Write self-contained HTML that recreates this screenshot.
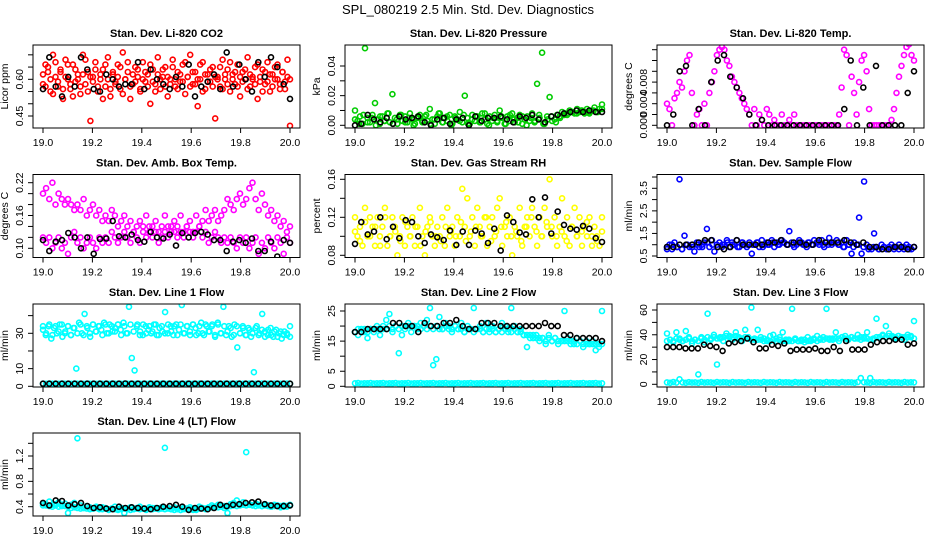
<!DOCTYPE html>
<html><head><meta charset="utf-8">
<style>
html,body{margin:0;padding:0;background:#fff;}
svg{display:block;font-family:"Liberation Sans",Arial,sans-serif;}
</style></head>
<body>
<svg id="chart" width="936" height="540" viewBox="0 0 936 540">
<rect width="936" height="540" fill="#fff"/>
<text x="468" y="14" text-anchor="middle" font-size="13">SPL_080219  2.5 Min. Std. Dev. Diagnostics</text>
</svg>
<script>
const xTicks=[19.0,19.2,19.4,19.6,19.8,20.0];
const xTickLabels=["19.0","19.2","19.4","19.6","19.8","20.0"];

const co2Red=[0.58,0.66,0.63,0.55,0.70,0.61,0.57,0.64,0.52,0.68,0.60,0.56,0.66,0.59,0.62,0.54,0.70,0.58,0.63,0.43,0.61,0.67,0.55,0.60,0.64,0.57,0.69,0.53,0.62,0.59,0.66,0.56,0.71,0.60,0.63,0.52,0.58,0.65,0.61,0.55,0.67,0.59,0.62,0.50,0.64,0.58,0.69,0.56,0.61,0.65,0.53,0.60,0.68,0.57,0.63,0.59,0.66,0.54,0.61,0.70,0.58,0.63,0.49,0.60,0.67,0.56,0.62,0.59,0.65,0.44,0.61,0.57,0.68,0.60,0.64,0.55,0.62,0.58,0.66,0.53,0.63,0.60,0.69,0.57,0.61,0.65,0.52,0.59,0.64,0.58,0.67,0.55,0.62,0.60,0.66,0.56,0.63,0.59,0.68,0.41];
const co2Red2=[0.62,0.57,0.65,0.60,0.54,0.67,0.59,0.63,0.56,0.61,0.66,0.58,0.53,0.64,0.60,0.57,0.62,0.68,0.55,0.61,0.59,0.64,0.57,0.62,0.52,0.66,0.60,0.56,0.63,0.58,0.61,0.65,0.54,0.60,0.67,0.57,0.62,0.59,0.64,0.56,0.60,0.63,0.57,0.66,0.59,0.55,0.62,0.60,0.64,0.57,0.61,0.58,0.65,0.60,0.56,0.62,0.59,0.67,0.61,0.57,0.63,0.58,0.60,0.66,0.55,0.62,0.59,0.64,0.57,0.61,0.60,0.65,0.56,0.62,0.58,0.67,0.60,0.63,0.57,0.61,0.59,0.64,0.56,0.62,0.60,0.58,0.66,0.61,0.55,0.63,0.59,0.62,0.57,0.65,0.60,0.58,0.63,0.56,0.61,0.60];
const co2Black=[0.56,0.69,0.57,0.53,0.61,0.57,0.69,0.64,0.56,0.55,0.62,0.60,0.57,0.58,0.58,0.67,0.56,0.64,0.60,0.58,0.56,0.61,0.57,0.66,0.53,0.57,0.59,0.62,0.56,0.71,0.57,0.66,0.60,0.55,0.67,0.61,0.69,0.65,0.58,0.52];

const presGreen=[0.010,0.003,0.006,0.001,0.052,0.005,0.002,0.007,0.015,0.004,0.001,0.006,0.003,0.008,0.002,0.021,0.005,0.001,0.007,0.003,0.006,0.002,0.008,0.004,0.001,0.005,0.007,0.002,0.006,0.003,0.011,0.004,0.001,0.006,0.008,0.002,0.005,0.003,0.007,0.001,0.006,0.004,0.009,0.002,0.020,0.005,0.001,0.007,0.003,0.006,0.002,0.008,0.004,0.001,0.006,0.003,0.007,0.002,0.010,0.005,0.001,0.006,0.003,0.008,0.002,0.005,0.007,0.001,0.004,0.006,0.003,0.008,0.002,0.028,0.005,0.049,0.001,0.006,0.019,0.003,0.004,0.007,0.006,0.009,0.008,0.007,0.010,0.009,0.008,0.011,0.009,0.010,0.008,0.011,0.009,0.010,0.012,0.009,0.011,0.014];
const presGreen2=[0.004,0.001,0.007,0.002,0.005,0.000,0.006,0.003,0.008,0.001,0.004,0.007,0.002,0.005,0.000,0.006,0.003,0.007,0.001,0.004,0.008,0.002,0.006,0.000,0.005,0.003,0.007,0.001,0.004,0.006,0.002,0.008,0.000,0.005,0.003,0.006,0.001,0.007,0.004,0.002,0.006,0.000,0.005,0.003,0.007,0.001,0.004,0.006,0.002,0.005,0.007,0.008,0.009,0.008,0.010,0.009,0.008,0.010,0.009,0.011];
const presBlack=[0.000,0.001,0.007,0.004,0.002,0.005,0.001,0.006,0.004,0.005,0.006,0.002,0.000,0.004,0.005,0.001,0.004,0.005,0.000,0.006,0.003,0.005,0.005,0.006,0.004,0.002,0.006,0.005,0.007,0.004,0.002,0.006,0.007,0.008,0.009,0.010,0.009,0.010,0.009,0.009];

const tempMag=[0.004,0.003,0.000,0.005,0.006,0.008,0.007,0.010,0.012,0.013,0.006,0.000,0.002,0.003,0.000,0.004,0.000,0.006,0.008,0.010,0.013,0.014,0.0145,0.014,0.012,0.011,0.009,0.008,0.007,0.006,0.005,0.004,0.003,0.002,0.000,0.003,0.000,0.002,0.001,0.000,0.003,0.002,0.000,0.001,0.000,0.000,0.002,0.000,0.000,0.001,0.000,0.002,0.000,0.000,0.000,0.000,0.000,0.000,0.000,0.000,0.000,0.000,0.000,0.000,0.000,0.000,0.000,0.000,0.000,0.002,0.007,0.014,0.013,0.000,0.009,0.006,0.002,0.008,0.012,0.013,0.010,0.003,0.000,0.000,0.000,0.000,0.000,0.000,0.000,0.000,0.001,0.003,0.006,0.009,0.011,0.013,0.0145,0.015,0.013,0.012];
const tempBlack=[0.000,0.002,0.010,0.011,0.000,0.003,0.000,0.008,0.012,0.013,0.009,0.007,0.005,0.002,0.000,0.001,0.000,0.000,0.000,0.000,0.000,0.000,0.000,0.000,0.000,0.000,0.000,0.000,0.003,0.012,0.000,0.007,0.000,0.011,0.000,0.000,0.000,0.000,0.006,0.010];

const boxUpper=[0.20,0.21,0.19,0.22,0.18,0.20,0.19,0.18,0.19,0.18,0.17,0.18,0.17,0.19,0.16,0.17,0.18,0.16,0.17,0.15,0.16,0.15,0.17,0.16,0.14,0.15,0.16,0.14,0.15,0.13,0.14,0.15,0.14,0.16,0.13,0.14,0.15,0.13,0.14,0.16,0.14,0.13,0.15,0.14,0.16,0.13,0.14,0.15,0.13,0.16,0.14,0.15,0.17,0.15,0.16,0.17,0.15,0.16,0.17,0.19,0.18,0.17,0.19,0.20,0.18,0.19,0.21,0.22,0.19,0.17,0.20,0.18,0.16,0.17,0.15,0.16,0.14,0.15,0.13,0.14];
const boxLower=[0.12,0.11,0.12,0.10,0.11,0.12,0.10,0.11,0.09,0.12,0.13,0.11,0.12,0.10,0.11,0.12,0.11,0.10,0.12,0.11,0.12,0.11,0.13,0.12,0.11,0.12,0.13,0.12,0.11,0.13,0.12,0.11,0.13,0.12,0.14,0.12,0.13,0.11,0.12,0.13,0.12,0.14,0.13,0.12,0.13,0.12,0.14,0.13,0.12,0.13,0.14,0.12,0.13,0.11,0.12,0.13,0.12,0.11,0.12,0.11,0.12,0.11,0.10,0.12,0.11,0.12,0.10,0.11,0.12,0.09,0.11,0.10,0.12,0.11,0.10,0.12,0.11,0.09,0.12,0.11];
const boxBlack=[0.115,0.095,0.112,0.115,0.128,0.120,0.100,0.120,0.090,0.117,0.118,0.150,0.122,0.120,0.125,0.115,0.112,0.130,0.120,0.118,0.125,0.105,0.128,0.120,0.128,0.130,0.125,0.115,0.115,0.095,0.112,0.115,0.110,0.118,0.095,0.095,0.112,0.085,0.115,0.110];

const rhYellow=[0.12,0.10,0.11,0.09,0.13,0.10,0.12,0.11,0.09,0.12,0.10,0.11,0.13,0.09,0.10,0.12,0.11,0.08,0.10,0.12,0.09,0.11,0.10,0.12,0.09,0.11,0.13,0.10,0.08,0.11,0.12,0.10,0.09,0.11,0.10,0.12,0.09,0.13,0.10,0.11,0.09,0.12,0.10,0.15,0.11,0.14,0.10,0.12,0.09,0.13,0.11,0.10,0.12,0.09,0.11,0.12,0.10,0.13,0.14,0.09,0.11,0.10,0.12,0.08,0.11,0.10,0.13,0.09,0.11,0.12,0.10,0.13,0.11,0.09,0.12,0.10,0.13,0.11,0.16,0.10,0.12,0.09,0.11,0.14,0.10,0.12,0.09,0.11,0.13,0.10,0.12,0.09,0.11,0.10,0.12,0.09,0.11,0.10,0.09,0.12];
const rhYellow2=[0.105,0.095,0.115,0.100,0.110,0.090,0.120,0.100,0.105,0.095,0.115,0.100,0.110,0.090,0.105,0.115,0.100,0.095,0.110,0.105,0.100,0.115,0.095,0.105,0.110,0.100,0.120,0.095,0.105,0.110,0.115,0.100,0.105,0.095,0.110,0.120,0.105,0.100,0.115,0.110,0.100,0.105,0.095,0.110,0.100,0.105,0.115,0.100,0.095,0.105];
const rhBlack=[0.092,0.115,0.102,0.105,0.120,0.097,0.110,0.098,0.117,0.115,0.100,0.093,0.102,0.099,0.096,0.106,0.091,0.105,0.091,0.106,0.103,0.093,0.108,0.085,0.122,0.115,0.104,0.102,0.139,0.120,0.141,0.103,0.126,0.112,0.108,0.107,0.111,0.108,0.098,0.094];

const flowBlue=[0.9,1.0,0.8,1.1,0.9,3.9,0.8,1.4,1.0,0.9,1.0,0.7,1.1,0.9,1.0,1.1,1.7,0.9,1.2,0.7,1.0,1.1,0.9,1.0,1.2,0.9,1.1,1.0,1.2,0.9,1.1,1.0,0.9,1.1,0.6,1.0,1.1,0.9,1.2,1.0,1.1,1.0,1.2,0.9,1.1,1.0,1.2,1.1,1.0,1.6,1.1,0.9,1.0,1.2,1.1,1.0,0.9,1.1,1.0,1.2,1.1,1.0,1.2,0.9,1.1,1.3,1.0,1.1,1.2,1.0,1.1,0.9,1.2,1.0,0.6,1.1,1.0,2.2,0.6,3.8,1.0,0.9,0.8,1.5,0.9,0.8,1.0,0.9,0.8,0.9,1.0,0.8,0.9,1.0,0.9,0.8,1.0,0.9,0.8,0.9];
const flowBlue2=[0.8,1.0,0.9,0.8,1.0,0.9,1.0,0.9,1.1,1.0,0.9,1.0,1.1,1.0,0.9,1.1,1.0,1.0,1.1,0.9,1.0,1.1,1.0,1.1,1.0,1.0,1.1,1.0,1.1,1.0,1.1,1.0,1.0,1.1,1.0,0.9,1.0,0.9,1.0,0.9,0.8,0.9,0.8,0.9,0.8,0.9,0.8,0.9,0.8,0.9];
const flowBlack=[0.9,0.9,1.0,1.0,1.0,1.1,1.2,1.2,0.9,0.8,0.9,1.2,1.0,1.0,1.0,1.0,1.1,1.1,1.2,1.0,1.1,1.1,1.0,1.0,1.2,1.1,1.1,1.1,1.2,1.1,1.0,1.1,0.9,0.9,0.8,0.8,0.9,0.9,0.8,0.9];

const line1Band=[32,29,34,27,33,30,35,28,31,34,29,33,10,36,30,41,33,28,35,31,34,32,36,30,35,31,33,35,32,36,30,45,16,9,35,31,29,34,32,30,35,29,33,31,42,30,34,29,35,32,46,30,34,29,35,33,30,36,29,34,31,35,28,36,30,45,29,34,28,35,22,30,34,29,33,28,8,34,30,41,31,29,33,28,32,30,27,31,29,34];
const line1Band2=[34,30,35,29,34,31,35,30,34,29,33,30,35,29,34,30,35,31,34,29,35,30,34,31,35,29,34,30,35,31,34,29,35,30,34,31,35,29,34,30,35,31,34,29,35,30,34,31,35,29,34,30,35,31,34,29,35,30,34,31,33,29,34,30,33,29,32,30,33,29,32,28,32,29,31,28,31,29,30,28];
const line1Zero=[1.5,1.4,1.6,1.5,1.5,1.4,1.6,1.5,1.5,1.4,1.6,1.5,1.5,1.4,1.6,1.5,1.5,1.4,1.6,1.5,1.5,1.4,1.6,1.5,1.5,1.4,1.6,1.5,1.5,1.4,1.6,1.5,1.5,1.4,1.6,1.5,1.5,1.4,1.6,1.5,1.5,1.4,1.6,1.5,1.5,1.4,1.6,1.5,1.5,1.4,1.6,1.5,1.5,1.4,1.6,1.5,1.5,1.4,1.6,1.5,1.5,1.4,1.6,1.5,1.5,1.4,1.6,1.5,1.5,1.4,1.6,1.5,1.5,1.4,1.6,1.5,1.5,1.4,1.6,1.5];
const line1Black=[1.5,1.5,1.5,1.5,1.5,1.5,1.5,1.5,1.5,1.5,1.5,1.5,1.5,1.6,1.5,1.5,1.5,1.5,1.5,1.5,1.5,1.5,1.5,1.5,1.5,1.5,1.5,1.5,1.5,1.5,1.5,1.5,1.5,1.5,1.5,1.5,1.5,1.5,1.5,1.5];

const line2Band=[18,17,19,18,16,19,18,20,17,19,22,24,18,20,11,17,19,21,18,20,19,21,20,22,26,7,9,23,19,21,20,18,20,19,21,18,20,19,26,19,20,18,21,19,20,18,19,21,20,19,26,20,18,19,17,13,17,16,17,15,16,14,17,15,16,14,15,25,16,15,14,16,15,13,15,14,15,12,14,25];
const line2Band2=[18,19,18,19,18,19,19,19,19,20,19,20,19,20,19,20,20,20,20,20,20,19,20,19,20,19,20,19,19,20,19,19,20,19,19,18,19,19,18,19,19,18,19,18,19,18,19,18,19,18,18,19,18,18,17,17,16,17,16,16,16,15,16,15,16,15,15,15,15,14,15,14,15,14,14,14,14,14,13,14];
const line2Zero=[1.0,1.1,0.9,1.0,1.0,1.1,0.9,1.0,1.0,1.1,0.9,1.0,1.0,1.1,0.9,1.0,1.0,1.1,0.9,1.0,1.0,1.1,0.9,1.0,1.0,1.1,0.9,1.0,1.0,1.1,0.9,1.0,1.0,1.1,0.9,1.0,1.0,1.1,0.9,1.0,1.0,1.1,0.9,1.0,1.0,1.1,0.9,1.0,1.0,1.1,0.9,1.0,1.0,1.1,0.9,1.0,1.0,1.1,0.9,1.0,1.0,1.1,0.9,1.0,1.0,1.1,0.9,1.0,1.0,1.1,0.9,1.0,1.0,1.1,0.9,1.0,1.0,1.1,0.9,1.0];
const line2Black=[18,18,19,19,19,19,21,21,20,20,18,21,20,20,21,21,22,20,19,19,21,21,21,20,20,20,20,20,20,20,21,20,20,17,17,16,16,16,16,15];

const line3Band=[41,36,34,42,37,35,43,38,33,36,8,38,34,57,36,40,16,37,35,41,38,36,42,37,35,44,38,62,36,44,38,37,35,39,40,37,38,42,36,35,61,37,35,36,34,38,36,37,39,37,38,61,37,36,42,35,38,39,36,38,37,40,36,38,42,5,36,53,38,40,47,41,38,37,39,38,36,40,39,51];
const line3Band2=[35,36,35,37,36,35,36,37,35,36,35,37,36,38,37,38,37,38,38,39,39,38,39,38,37,38,37,36,37,36,36,35,36,35,36,35,36,35,35,36,35,36,35,35,36,35,35,36,35,36,36,37,36,37,37,37,38,37,37,38,37,37,38,37,37,36,37,38,38,39,38,39,39,38,39,38,38,38,38,37];
const line3Zero=[1.5,1.2,1.8,1.4,4.0,1.5,1.2,1.7,1.4,1.5,1.2,1.8,1.4,1.6,1.5,1.2,1.8,1.4,1.6,1.5,1.2,1.8,1.4,1.6,1.5,1.2,1.8,1.4,1.6,1.5,1.2,1.8,1.4,1.6,1.5,1.2,1.8,1.4,1.6,1.5,1.2,1.8,1.4,1.6,1.5,1.2,1.8,1.4,1.6,1.5,1.2,1.8,1.4,1.6,1.5,1.2,1.8,1.4,1.6,1.5,1.2,1.8,5.0,1.6,1.5,1.2,1.8,1.4,1.6,1.5,1.2,1.8,1.4,1.6,1.5,1.2,1.8,1.4,1.6,1.5];
const line3Black=[30,30,30,29,29,29,32,31,30,27,33,34,35,37,34,29,29,32,31,33,27,28,28,28,29,27,27,30,27,35,28,28,28,32,34,35,35,36,36,32,33];

const line4Band=[0.45,0.42,0.48,0.40,0.44,0.47,0.41,0.45,0.30,0.43,0.46,1.48,0.42,0.38,0.41,0.39,0.37,0.40,0.36,0.39,0.38,0.35,0.37,0.40,0.36,0.38,0.30,0.37,0.39,0.36,0.38,0.40,0.37,0.35,0.39,0.36,0.38,0.37,0.39,1.33,0.38,0.36,0.39,0.37,0.35,0.38,0.36,0.39,0.37,0.35,0.40,0.38,0.36,0.39,0.42,0.40,0.43,0.41,0.38,0.30,0.44,0.46,0.50,0.43,0.47,1.26,0.44,0.42,0.45,0.43,0.41,0.44,0.42,0.40,0.43,0.41,0.39,0.42,0.40,0.43];
const line4Band2=[0.42,0.44,0.41,0.43,0.42,0.40,0.42,0.41,0.40,0.38,0.39,0.38,0.37,0.38,0.37,0.36,0.37,0.38,0.37,0.36,0.37,0.36,0.37,0.36,0.35,0.36,0.37,0.36,0.35,0.36,0.37,0.36,0.37,0.36,0.37,0.38,0.37,0.36,0.37,0.36,0.37,0.36,0.35,0.36,0.35,0.36,0.37,0.36,0.35,0.36,0.37,0.38,0.37,0.38,0.39,0.40,0.39,0.40,0.41,0.40,0.41,0.42,0.41,0.42,0.43,0.42,0.43,0.42,0.41,0.42,0.41,0.42,0.41,0.40,0.41,0.42,0.41,0.40,0.41,0.42];
const line4Black=[0.46,0.42,0.50,0.49,0.42,0.44,0.46,0.41,0.38,0.39,0.37,0.36,0.40,0.38,0.39,0.38,0.37,0.36,0.38,0.40,0.41,0.43,0.40,0.35,0.38,0.37,0.36,0.38,0.43,0.41,0.43,0.44,0.46,0.47,0.48,0.44,0.42,0.41,0.41,0.42];

const NS="http://www.w3.org/2000/svg";
const svg=document.getElementById('chart');
const colLeft=[33,345,657], colW=267;
const rowTop=[45,174.5,304,433], rowH=83;

const panels=[
 {key:'co2',c:0,r:0,title:'Stan. Dev. Li-820 CO2',ylab:'Licor ppm',cal:[0.45,116,0.60,79.3],ticks:[0.45,0.50,0.55,0.60,0.65,0.70],labels:['0.45','0.60'],lv:[0.45,0.60],series:[[co2Red,'#ff0000'],[co2Red2,'#ff0000'],[co2Black,'#000']]},
 {key:'pressure',c:1,r:0,title:'Stan. Dev. Li-820 Pressure',ylab:'kPa',cal:[0,125.3,0.04,66],ticks:[0,0.01,0.02,0.03,0.04],labels:['0.00','0.02','0.04'],lv:[0,0.02,0.04],series:[[presGreen2,'#00cc00'],[presGreen,'#00cc00'],[presBlack,'#000']]},
 {key:'li820-temp',c:2,r:0,title:'Stan. Dev. Li-820 Temp.',ylab:'degrees C',cal:[0,125.3,0.008,82.1],ticks:[0,0.002,0.004,0.006,0.008,0.010,0.012,0.014],labels:['0.000','0.004','0.008'],lv:[0,0.004,0.008],series:[[tempMag,'#ff00ff'],[tempBlack,'#000']]},
 {key:'box-temp',c:0,r:1,title:'Stan. Dev. Amb. Box Temp.',ylab:'degrees C',cal:[0.10,248.3,0.22,182.7],ticks:[0.10,0.12,0.14,0.16,0.18,0.20,0.22],labels:['0.10','0.16','0.22'],lv:[0.10,0.16,0.22],series:[[boxUpper,'#ff00ff'],[boxLower,'#ff00ff'],[boxBlack,'#000']]},
 {key:'rh',c:1,r:1,title:'Stan. Dev. Gas Stream RH',ylab:'percent',cal:[0.08,255.3,0.16,179.3],ticks:[0.08,0.10,0.12,0.14,0.16],labels:['0.08','0.12','0.16'],lv:[0.08,0.12,0.16],series:[[rhYellow2,'#ffff00'],[rhYellow,'#ffff00'],[rhBlack,'#000']]},
 {key:'sample-flow',c:2,r:1,title:'Stan. Dev. Sample Flow',ylab:'ml/min',cal:[0.5,256,3.5,188.3],ticks:[0.5,1,1.5,2,2.5,3,3.5,4],labels:['0.5','1.5','2.5','3.5'],lv:[0.5,1.5,2.5,3.5],series:[[flowBlue2,'#0000ff'],[flowBlue,'#0000ff'],[flowBlack,'#000']]},
 {key:'line1',c:0,r:2,title:'Stan. Dev. Line 1 Flow',ylab:'ml/min',cal:[0,386.3,30,333.3],ticks:[0,10,20,30,40],labels:['0','10','30'],lv:[0,10,30],series:[[line1Band,'#00ffff'],[line1Band2,'#00ffff'],[line1Zero,'#00ffff'],[line1Black,'#000']]},
 {key:'line2',c:1,r:2,title:'Stan. Dev. Line 2 Flow',ylab:'ml/min',cal:[0,386.3,25,311],ticks:[0,5,10,15,20,25],labels:['0','5','15','25'],lv:[0,5,15,25],series:[[line2Band,'#00ffff'],[line2Band2,'#00ffff'],[line2Zero,'#00ffff'],[line2Black,'#000']]},
 {key:'line3',c:2,r:2,title:'Stan. Dev. Line 3 Flow',ylab:'ml/min',cal:[0,384.3,60,310],ticks:[0,10,20,30,40,50,60],labels:['0','20','40','60'],lv:[0,20,40,60],series:[[line3Band,'#00ffff'],[line3Band2,'#00ffff'],[line3Zero,'#00ffff'],[line3Black,'#000']]},
 {key:'line4',c:0,r:3,title:'Stan. Dev. Line 4 (LT) Flow',ylab:'ml/min',cal:[0.4,506.7,1.2,456],ticks:[0.4,0.6,0.8,1.0,1.2,1.4],labels:['0.4','0.8','1.2'],lv:[0.4,0.8,1.2],series:[[line4Band,'#00ffff'],[line4Band2,'#00ffff'],[line4Black,'#000']]}
];

function mk(tag,attrs,parent){const e=document.createElementNS(NS,tag);for(const k in attrs)e.setAttribute(k,attrs[k]);(parent||svg).appendChild(e);return e;}

panels.forEach(p=>{
  const L=colLeft[p.c], T=rowTop[p.r], R=L+colW, B=T+rowH;
  const xs=v=>L+10+(v-19)*(colW-20);
  const ys=v=>p.cal[1]+(v-p.cal[0])*(p.cal[3]-p.cal[1])/(p.cal[2]-p.cal[0]);
  const g=mk('g',{});
  
  
  const t=mk('text',{x:(L+R)/2,y:T-8,'text-anchor':'middle','font-size':'11','font-weight':'bold'},g);
  t.textContent=p.title;
  
  
  const cp='clip-'+p.key;
  const defs=mk('defs',{},g);
  const clip=mk('clipPath',{id:cp},defs);
  mk('rect',{x:L,y:T,width:colW,height:rowH},clip);
  const pts=mk('g',{'clip-path':'url(#'+cp+')',fill:'none','stroke-width':'1.6'},g);
  
  
  p.series.forEach((s,si)=>{
    const vals=s[0], n=vals.length;
    vals.forEach((v,i)=>{
      const tv=19+i/(n-1);
      const c=mk('circle',{cx:xs(tv).toFixed(1),cy:ys(v).toFixed(1),r:'2.5',stroke:s[1]},pts);
      
      
    });
  });
  const box=mk('rect',{x:L,y:T,width:colW,height:rowH,fill:'none',stroke:'#000','stroke-width':'1'},g);
  
  
  xTicks.forEach((tv,i)=>{
    const x=xs(tv);
    mk('line',{x1:x,x2:x,y1:B,y2:B+5,stroke:'#000'},g);
    const lt=mk('text',{x:x,y:B+18,'text-anchor':'middle','font-size':'10.5'},g);
    lt.textContent=xTickLabels[i];
    
    
  });
  p.ticks.forEach(tv=>{const y=ys(tv);mk('line',{x1:L-5,x2:L,y1:y,y2:y,stroke:'#000'},g);});
  p.lv.forEach((tv,i)=>{
    const y=ys(tv);
    const lt=mk('text',{x:L-10,y:y,'text-anchor':'middle','font-size':'10.5',transform:'rotate(-90 '+(L-10)+' '+y+')'},g);
    lt.textContent=p.labels[i];
    
    
  });
  const yl=mk('text',{x:L-25,y:(T+B)/2,'text-anchor':'middle','font-size':'10.5',transform:'rotate(-90 '+(L-25)+' '+((T+B)/2)+')'},g);
  yl.textContent=p.ylab;
  
  
});
</script>
</body></html>
